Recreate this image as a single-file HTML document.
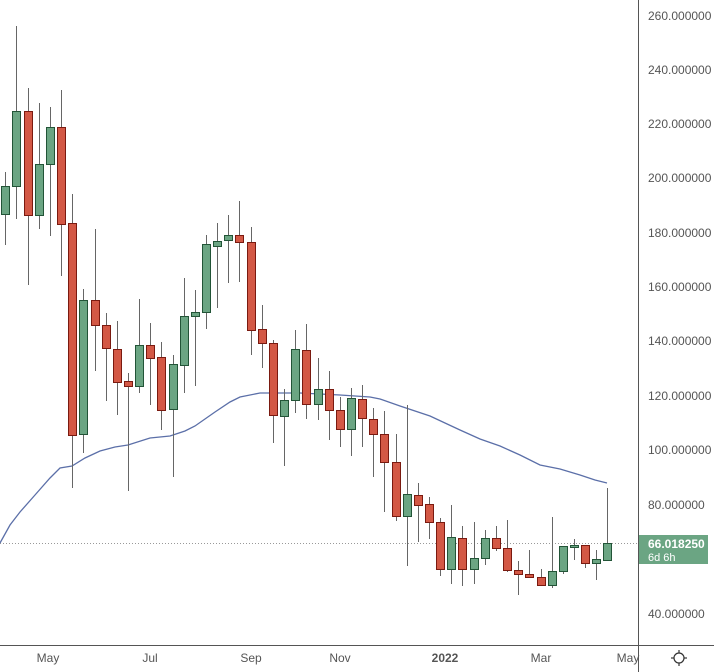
<!DOCTYPE html>
<html><head><style>
body{margin:0;background:#fff;}
svg{display:block;font-family:"Liberation Sans",sans-serif;}
</style></head><body>
<svg width="714" height="672" viewBox="0 0 714 672" xmlns="http://www.w3.org/2000/svg">
<rect width="714" height="672" fill="#fff"/>
<line x1="0" y1="543.5" x2="638" y2="543.5" stroke="#999" stroke-width="1" stroke-dasharray="1,2"/>
<polyline fill="none" stroke="#5b6fa8" stroke-width="1.3" points="0,543 10,525 20,512 35,495 50,478 60,468 72,466 85,458 100,451 115,447 128,445 150,438 170,436 185,431 195,426 215,412 230,402 240,397 260,393 275,393 300,393 320,394 340,395 370,397 380,399 400,406 430,416 460,430 480,439 500,446 520,455 540,465 560,469 580,475 595,480 607,483"/>
<g id="c"></g>
<line x1="638.5" y1="0" x2="638.5" y2="672" stroke="#555" stroke-width="1"/>
<line x1="0" y1="645.5" x2="714" y2="645.5" stroke="#555" stroke-width="1"/>
<g fill="#555" font-size="12">
<text x="648" y="20">260.000000</text>
<text x="648" y="74">240.000000</text>
<text x="648" y="128">220.000000</text>
<text x="648" y="182">200.000000</text>
<text x="648" y="237">180.000000</text>
<text x="648" y="291">160.000000</text>
<text x="648" y="345">140.000000</text>
<text x="648" y="400">120.000000</text>
<text x="648" y="454">100.000000</text>
<text x="648" y="509">80.000000</text>
<text x="648" y="618">40.000000</text>
</g>
<rect x="639" y="535" width="69" height="29" fill="#6ba583"/>
<text x="648" y="548" fill="#fff" font-size="12" font-weight="bold">66.018250</text>
<text x="648" y="561" fill="#fff" font-size="11">6d 6h</text>
<g fill="#555" font-size="12" text-anchor="middle">
<text x="48" y="662">May</text>
<text x="150" y="662">Jul</text>
<text x="251" y="662">Sep</text>
<text x="340" y="662">Nov</text>
<text x="445" y="662" font-weight="bold">2022</text>
<text x="541" y="662">Mar</text>
<text x="628" y="662">May</text>
</g>
<g stroke="#333" fill="none" stroke-width="1.2">
<circle cx="679" cy="658" r="5"/>
<line x1="679" y1="650" x2="679" y2="653"/><line x1="679" y1="663" x2="679" y2="666"/>
<line x1="671" y1="658" x2="674" y2="658"/><line x1="684" y1="658" x2="687" y2="658"/>
</g>
</svg>
<script>
var d=[
['g',172,245,186,214],['g',26,219,111,186],['r',88,285,111,215],['g',103,229,164,215],['g',107,236,127,164],
['r',90,276,127,224],['r',194,488,223,435],['g',289,453,300,434],['r',229,371,300,325],['r',313,401,325,348],
['r',321,415,349,382],['r',373,491,381,386],['g',299,393,345,386],['r',323,405,345,358],['r',342,430,357,410],
['g',355,477,364,409],['g',278,393,316,365],['g',290,386,312,316],['g',235,329,244,312],['g',223,308,241,246],
['g',215,283,235,240],['r',201,282,235,242],['r',227,355,242,330],['r',305,368,329,343],['r',340,443,343,415],
['g',389,466,400,416],['g',330,413,349,400],['r',324,419,350,404],['g',358,420,389,404],['r',371,440,389,410],
['r',397,447,410,429],['g',388,456,398,429],['r',385,447,399,418],['r',408,477,419,434],['r',411,512,434,462],
['r',434,521,462,516],['g',405,566,494,516],['r',483,542,495,505],['r',497,539,504,522],['r',518,576,522,569],
['g',505,584,537,569],['r',526,586,538,569],['g',522,584,558,569],['g',530,565,538,558],['r',526,551,538,548],
['r',520,572,548,570],['r',561,595,570,574],['r',550,577,574,577],['r',569,586,577,585],['g',517,588,571,585],
['g',546,574,546,571],['g',539,560,545,547],['r',545,568,545,563],['g',550,580,559,563],['g',488,560,543,560]];
var s='';
d.forEach(function(c,i){var x=Math.round(5.3+i*11.15);var f=c[0]=='g'?'#6ba583':'#d35845',st=c[0]=='g'?'#225437':'#7a1a10';
s+='<line x1="'+(x+.5)+'" y1="'+c[1]+'" x2="'+(x+.5)+'" y2="'+c[2]+'" stroke="#666" stroke-width="1"/>';
var h=Math.max(c[4]-c[3],2);
s+='<rect x="'+(x-3.5)+'" y="'+(c[3]+.5)+'" width="8" height="'+h+'" fill="'+f+'" stroke="'+st+'" stroke-width="1"/>';});
document.getElementById('c').innerHTML=s;
</script>
</body></html>
